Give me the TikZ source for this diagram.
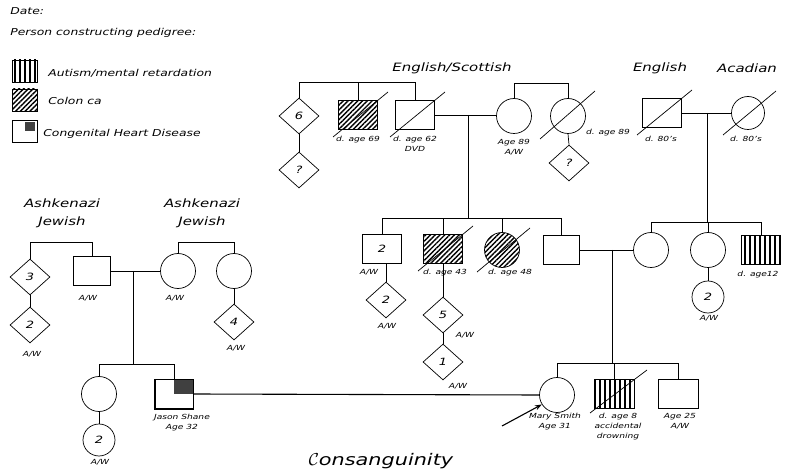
\documentclass[tikz,border=0pt]{standalone}
\usepackage{fontspec}
\setmainfont[FakeStretch=1.3]{DejaVu Sans}
\usetikzlibrary{shapes.geometric,patterns.meta,calc,arrows.meta}
\newcommand\deadmark[1]{\draw ($(#1.center)+(-25,22)$) -- ($(#1.center)+(30,-23)$);}
\begin{document}
\begin{tikzpicture}[x=1pt,y=-1pt,line width=0.7pt,
  male/.style={draw,rectangle,minimum width=39pt,minimum height=29pt,inner sep=0pt,font=\fontsize{10}{12}\selectfont\itshape},
  female/.style={draw,circle,minimum size=35pt,inner sep=0pt,font=\fontsize{10}{12}\selectfont\itshape},
  unk/.style={draw,diamond,minimum width=40pt,minimum height=36pt,inner sep=0pt,font=\fontsize{10}{12}\selectfont\itshape},
  hatch/.style={pattern={Lines[angle=45,distance=3.4pt,line width=1.4pt]}},
  stripes/.style={pattern={Lines[angle=90,distance=5pt,line width=2.6pt]}},
  lbl/.style={font=\fontsize{7}{10}\selectfont\itshape,align=center,inner sep=0pt,anchor=north},
  ttl/.style={font=\fontsize{11.5}{18}\selectfont\itshape,align=center,inner sep=0pt},
  leg/.style={font=\fontsize{9.5}{11}\selectfont\itshape,anchor=west,inner sep=0pt},
  legbox/.style={draw,minimum width=25pt,minimum height=22pt,inner sep=0pt}]
\useasboundingbox (0,0) rectangle (785,473);

% ---------- legend ----------
\node[leg] (date) at (10,11) {Date:};
\node[leg] (pers) at (10,33) {Person constructing pedigree:};
\node[legbox,stripes] (lg1) at (24.5,71) {};
\node[leg] (lt1) at (48,73) {Autism/mental retardation};
\node[legbox,hatch] (lg2) at (24.5,100) {};
\node[leg] (lt2) at (48,101) {Colon ca};
\node[legbox] (lg3) at (24.5,131.5) {};
\fill[black!75] ($(lg3.north)+(0,2)$) rectangle ($(lg3.east)+(-2,0)$);
\node[leg] (lt3) at (43,134) {Congenital Heart Disease};

% ---------- titles ----------
\node[ttl] (tES) at (452,68) {English/Scottish};
\node[ttl] (tE) at (660,68) {English};
\node[ttl] (tA) at (747,68) {Acadian};
\node[ttl] (tAJ1) at (62,213) {Ashkenazi\\Jewish};
\node[ttl] (tAJ2) at (202,213) {Ashkenazi\\Jewish};

% ---------- generation I (top middle) ----------
\coordinate (s1) at (360,82);
\coordinate (s2) at (540,83);
\node[unk] (d6) at (299,116) {6};
\node[unk] (dq1) at (299,170) {?};
\node[male,hatch] (m69) at (358,115) {};
\node[male] (m62) at (415,115) {};
\node[female] (f89) at (514,116) {};
\node[female] (f89d) at (568,116) {};
\node[unk] (dq2) at (569,163) {?};
\deadmark{m69}
\deadmark{m62}
\draw ($(f89d.center)+(-28,23)$) -- ($(f89d.center)+(27,-25)$);
\draw (d6.north) |- (m62.north |- s1) -- (m62.north);
\draw (m69.north) -- (m69.north |- s1);
\draw (d6.south) -- (dq1.north);
\draw (f89.north) |- (f89d.north |- s2) -- (f89d.north);
\draw (f89d.south) -- (dq2.north);
\node[lbl] (l69) at (358,136) {d. age 69};
\node[lbl] (l62) at (415,136) {d. age 62\\DVD};
\node[lbl] (l89) at (514,139) {Age 89\\A/W};
\node[lbl] (l89d) at (608,129) {d. age 89};

% top right
\node[male] (m80) at (662,113) {};
\node[female,minimum size=33pt] (f80) at (748,113) {};
\deadmark{m80}
\draw ($(f80.center)+(-25,22)$) -- ($(f80.center)+(28,-22)$);
\node[lbl] (l80a) at (661,136) {d. 80's};
\node[lbl] (l80b) at (746,136) {d. 80's};

% marriages gen I
\draw (m62.east) -- (m62.east -| f89.west);
\coordinate (mar1) at (468,115);
\coordinate (s3) at (468,218);
\draw (mar1) -- (s3);
\draw (m80.east) -- (f80.west);
\coordinate (mar3) at (707,113);
\coordinate (s4) at (707,222);
\draw (mar3) -- (s4);

% ---------- generation II (middle) ----------
\node[male] (m2) at (382,249) {2};
\node[unk] (d2) at (386,300) {2};
\node[male,hatch] (m43) at (443,249) {};
\node[unk] (d5) at (443,315) {5};
\node[unk] (d1) at (443,362) {1};
\node[female,hatch] (f48) at (502,250) {};
\node[male,minimum width=36pt] (msq) at (561,250) {};
\deadmark{m43}
\draw ($(f48.center)+(-25,22)$) -- ($(f48.center)+(28,-22)$);
\draw (m2.north) |- (msq.north |- s3) -- (msq.north);
\draw (m43.north) -- (m43.north |- s3);
\draw (f48.north) -- (f48.north |- s3);
\draw (d2.north |- m2.south) -- (d2.north);
\draw (m43.south) -- (d5.north);
\draw (d5.south) -- (d1.north);
\node[lbl] (lm2) at (369,269) {A/W};
\node[lbl] (ld2) at (387,323) {A/W};
\node[lbl] (l43) at (445,269) {d. age 43};
\node[lbl] (l48) at (510,269) {d. age 48};
\node[lbl] (ld5) at (465,332) {A/W};
\node[lbl] (ld1) at (458,383) {A/W};

% right gen II
\node[female] (fr1) at (651,250) {};
\node[female] (fr2) at (708,250) {};
\node[male,stripes] (m12) at (761,250) {};
\node[female,minimum size=32pt] (f2) at (708,297) {2};
\draw (fr1.north) |- (m12.north |- s4) -- (m12.north);
\draw (fr2.north) -- (fr2.north |- s4);
\draw (fr2.south) -- (f2.north);
\node[lbl] (l12) at (758,271) {d. age12};
\node[lbl] (lf2) at (709,315) {A/W};

% marriage gen II
\draw (msq.east) -- (fr1.west);
\coordinate (mar2) at (612,250);
\coordinate (sR) at (612,363);
\draw (mar2) -- (sR);

% ---------- left family ----------
\coordinate (sL1) at (60,242);
\coordinate (sL2) at (200,242);
\node[unk] (d3) at (30,277) {3};
\node[male,minimum width=37pt] (mA) at (92,271) {};
\node[unk] (d2L) at (30,325) {2};
\node[female] (fA) at (178,271) {};
\node[female] (fA2) at (234,271) {};
\node[unk] (d4) at (234,322) {4};
\draw (d3.north) |- (mA.north |- sL1) -- (mA.north);
\draw (fA.north) |- (fA2.north |- sL2) -- (fA2.north);
\draw (d3.south) -- (d2L.north);
\draw (fA2.south) -- (d4.north);
\node[lbl] (lmA) at (88,295) {A/W};
\node[lbl] (lfA) at (175,295) {A/W};
\node[lbl] (ld2L) at (32,351) {A/W};
\node[lbl] (ld4) at (236,345) {A/W};
\draw (mA.east) -- (fA.west);
\coordinate (mar4) at (133,271);
\coordinate (sB) at (133,364);
\draw (mar4) -- (sB);

% ---------- generation III ----------
\node[female] (fB) at (99,394) {};
\node[female,minimum size=32pt] (fB2) at (99,440) {2};
\node[male,minimum width=38pt] (jason) at (174,394) {};
\fill[black!75] (jason.north) rectangle (jason.east);
\draw (jason.south west) rectangle (jason.north east);
\draw (fB.north) |- (jason.north |- sB) -- (jason.north);
\draw (fB.south) -- (fB2.north);
\node[lbl] (lfB2) at (100,459) {A/W};
\node[lbl] (ljason) at (182,414) {Jason Shane\\Age 32};

\node[female] (mary) at (557,395) {};
\node[male,stripes,minimum width=40pt] (m8) at (614,394) {};
\node[male,minimum width=40pt] (m25) at (678,394) {};
\draw ($(m8.center)+(-24,19)$) -- ($(m8.center)+(33,-24)$);
\draw (mary.north) |- (m25.north |- sR) -- (m25.north);
\draw (m8.north) -- (m8.north |- sR);
\node[lbl] (lmary) at (555,413) {Mary Smith\\Age 31};
\node[lbl] (lm8) at (618,413) {d. age 8\\accidental\\drowning};
\node[lbl] (lm25) at (680,413) {Age 25\\A/W};

% consanguinity
\draw[line width=1.1pt] (jason.east) -- (mary.west);
\coordinate (arrs) at (502,426);
\draw[-{Stealth[length=7pt,width=5pt]},line width=1.1pt] (arrs) -- (mary.212);
\node[ttl,font=\fontsize{16}{18}\selectfont\itshape] (cons) at (381,461) {$\mathcal{C}$onsanguinity};
\end{tikzpicture}
\end{document}
